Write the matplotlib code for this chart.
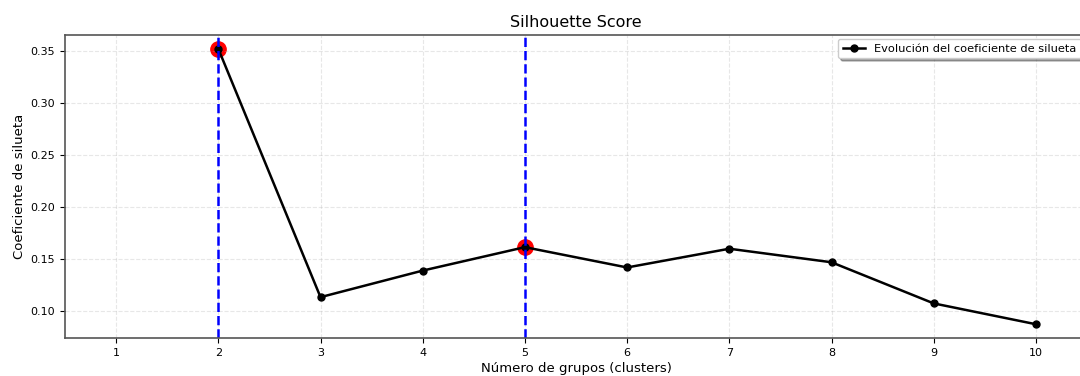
import numpy as np
import matplotlib.pyplot as plt

clusters = [2, 3, 4, 5, 6, 7, 8, 9, 10]
scores = [0.352, 0.1135, 0.139, 0.1615, 0.142, 0.160, 0.147, 0.1075, 0.0875]
best_k = [2, 5]
xticks = list(range(1, 11))

fig = plt.figure(figsize=(10.8, 3.76), dpi=100)
ax = fig.add_axes([65/1080, 1-338/376, 1022/1080, 303/376])

ax.plot(clusters, scores, color='black', marker='o', markersize=5, linewidth=1.8,
        label='Evolución del coeficiente de silueta')
for k in best_k:
    ax.axvline(k, color='blue', linestyle='--', linewidth=1.8)
    ax.plot(k, scores[clusters.index(k)], 'o', color='red', markersize=11, zorder=1.5)

ax.set_xlim(0.5, 10.5)
ax.set_xticks(xticks)
ax.grid(True, linestyle='--', alpha=0.3)
ax.set_title('Silhouette Score', fontsize=11.5)
ax.set_xlabel('Número de grupos (clusters)', fontsize=9.5, labelpad=3)
ax.set_ylabel('Coeficiente de silueta', fontsize=9.5, labelpad=3)
ax.tick_params(labelsize=8)
for s in ax.spines.values():
    s.set_color('#555555')
    s.set_linewidth(1.2)
ax.legend(loc='upper left', fontsize=8.2, shadow=True, borderaxespad=0,
          bbox_to_anchor=(838/1080, 1-39/376), bbox_transform=fig.transFigure)

fig.savefig('out.png', dpi=100)
